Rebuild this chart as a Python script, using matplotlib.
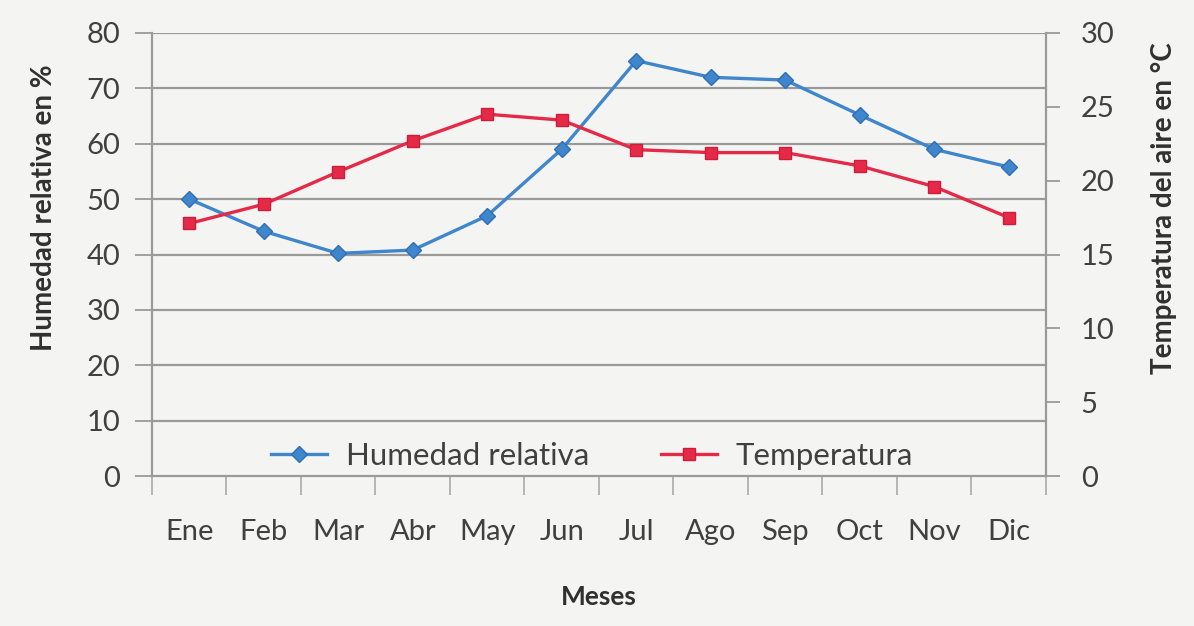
import matplotlib.pyplot as plt
import numpy as np

# datos
meses = ["Ene", "Feb", "Mar", "Abr", "May", "Jun", "Jul", "Ago", "Sep", "Oct", "Nov", "Dic"]
humedad = [50, 44.2, 40.2, 40.8, 47, 59, 75, 72, 71.5, 65.2, 59, 55.8]
temperatura = [17.1, 18.4, 20.6, 22.7, 24.5, 24.1, 22.1, 21.9, 21.9, 21.0, 19.6, 17.5]
ticks_hum = [0, 10, 20, 30, 40, 50, 60, 70, 80]
ticks_temp = [0, 5, 10, 15, 20, 25, 30]

fondo = "#f4f4f3"
gris = "#9a9a9a"
texto = "#404040"
azul = "#3f86cc"
rojo = "#e52a48"

plt.rcParams['font.family'] = ['Lato', 'DejaVu Sans']

fig = plt.figure(figsize=(11.94, 6.26), dpi=100, facecolor=fondo)
ax = fig.add_axes([0.1273, 0.2396, 0.7487, 0.7077])
ax.set_facecolor(fondo)
x = np.arange(len(meses))

# cuadricula
for t in ticks_hum[1:]:
    ax.axhline(t, color=gris, lw=1.6, zorder=1)

l1, = ax.plot(x, humedad, color=azul, lw=2.4, marker="D", ms=8.5,
              mfc=azul, mec="#2f6fb5", zorder=3, label="Humedad relativa")
ax.set_ylim(0, 80)
ax.set_xlim(-0.5, len(meses) - 0.5)
ax.set_yticks(ticks_hum)
ax.set_xticks(x)
ax.set_xticklabels(meses)
ax.set_xticks(np.arange(-0.5, len(meses), 1), minor=True)
ax.tick_params(axis="x", which="major", length=0, pad=31, labelsize=21, colors=texto)
ax.tick_params(axis="x", which="minor", length=14, width=1.3, color="#b0b0b0", direction="out")
ax.tick_params(axis="y", length=12, width=1.3, color=gris, pad=11, labelsize=21, labelcolor=texto)
for s in ["top", "right"]:
    ax.spines[s].set_visible(False)
ax.spines["left"].set_color(gris)
ax.spines["left"].set_linewidth(1.6)
ax.spines["bottom"].set_color(gris)
ax.spines["bottom"].set_linewidth(1.6)

ax2 = ax.twinx()
l2, = ax2.plot(x, temperatura, color=rojo, lw=2.4, marker="s", ms=8.5,
               mfc=rojo, mec="#d01c3a", zorder=3, label="Temperatura")
ax2.set_ylim(0, 30)
ax2.set_yticks(ticks_temp)
ax2.tick_params(axis="y", length=10, width=1.3, color=gris, pad=15, labelsize=21, labelcolor=texto)
for s in ["top", "left", "bottom"]:
    ax2.spines[s].set_visible(False)
ax2.spines["right"].set_color(gris)
ax2.spines["right"].set_linewidth(1.6)

ax.set_ylabel("Humedad relativa en %", fontsize=20, fontweight="bold", color="#303030",
              labelpad=21, y=0.605)
ax2.set_ylabel("Temperatura del aire en °C", fontsize=20, fontweight="bold", color="#303030",
               labelpad=26, y=0.605)
ax.set_xlabel("Meses", fontsize=19, fontweight="bold", color="#303030", labelpad=29)

leg = ax.legend(handles=[l1, l2], loc="center", bbox_to_anchor=(0.492, 0.045),
                ncol=2, frameon=False, fontsize=22.5, handlelength=1.8,
                columnspacing=2.3, handletextpad=0.6)
for t in leg.get_texts():
    t.set_color(texto)

fig.savefig("out.png", dpi=100, facecolor=fondo)
